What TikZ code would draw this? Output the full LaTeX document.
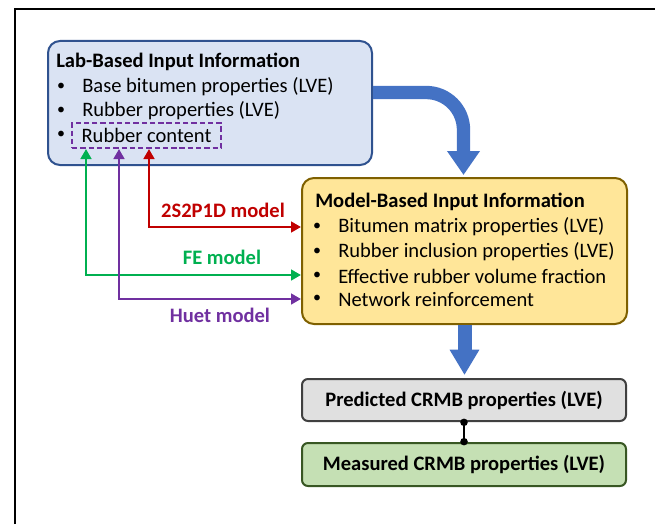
\documentclass[tikz,border=0pt]{standalone}
\usepackage{fontspec}
\setmainfont{Carlito}
\usetikzlibrary{arrows.meta,calc}
\definecolor{labfill}{HTML}{DAE3F3}
\definecolor{labdraw}{HTML}{2F528F}
\definecolor{bluearr}{HTML}{4472C4}
\definecolor{modfill}{HTML}{FFE699}
\definecolor{moddraw}{HTML}{7F6000}
\definecolor{cred}{HTML}{C00000}
\definecolor{cgreen}{HTML}{00B050}
\definecolor{cpurple}{HTML}{7030A0}
\definecolor{grayfill}{HTML}{E0E0E0}
\definecolor{graydraw}{HTML}{404040}
\definecolor{grnfill}{HTML}{C5E0B4}
\definecolor{grndraw}{HTML}{385723}
\begin{document}
\begin{tikzpicture}[x=0.75pt,y=-0.75pt,
  box/.style={draw, line width=1.5pt, inner sep=0pt},
  fnt/.style={font=\fontsize{15.4}{18}\selectfont},
  bfnt/.style={font=\fontsize{15.4}{18}\selectfont\bfseries},
  txt/.style={fnt, anchor=west, inner sep=0pt},
  bul/.style={font=\fontsize{12}{14}\selectfont, inner sep=0pt},
  lbl/.style={bfnt, inner sep=0pt},
  conn/.style={line width=2.2pt, {Triangle[length=7.5pt,width=8pt]}-{Triangle[length=7.5pt,width=8pt]}},
  bigarrow/.style={bluearr, line width=10pt},
]
\useasboundingbox (0,0) rectangle (655,524);
\draw[line width=1.6pt] (15,524) -- (15,9) -- (655,9);

% boxes
\node[box, draw=labdraw, fill=labfill, rounded corners=9pt, minimum width=243pt, minimum height=93pt] (lab) at (210,103) {};
\node[box, draw=moddraw, fill=modfill, rounded corners=9pt, minimum width=243.75pt, minimum height=109.5pt] (model) at (464.5,251) {};
\node[box, draw=graydraw, fill=grayfill, rounded corners=4.5pt, minimum width=243pt, minimum height=31.5pt, bfnt] (pred) at (464,400) {Predicted CRMB properties (LVE)};
\node[box, draw=grndraw, fill=grnfill, rounded corners=4.5pt, minimum width=243pt, minimum height=32.25pt, bfnt] (meas) at (464,464.5) {Measured CRMB properties (LVE)};

% lab texts
\node[txt, bfnt] (labt) at (56,62) {Lab-Based Input Information};
\node[bul] (lb1) at (61,87) {•};
\node[txt] (l1) at (82,87) {Base bitumen properties (LVE)};
\node[bul] (lb2) at (61,111) {•};
\node[txt] (l2) at (82,111) {Rubber properties (LVE)};
\node[bul] (lb3) at (61,135) {•};
\node[fnt, draw=cpurple, line width=1.5pt, dash pattern=on 4pt off 2.2pt, inner sep=0pt, minimum width=111.75pt, minimum height=18.75pt] (rc) at (146.5,135.5) {Rubber content};

% model texts
\node[txt, bfnt] (modt) at (315,202) {Model-Based Input Information};
\node[bul] (mb1) at (317,227) {•};
\node[txt] (m1) at (338,227) {Bitumen matrix properties (LVE)};
\node[bul] (mb2) at (317,252) {•};
\node[txt] (m2) at (338,252) {Rubber inclusion properties (LVE)};
\node[bul] (mb3) at (317,276) {•};
\node[txt] (m3) at (338,276) {Effective rubber volume fraction};
\node[bul] (mb4) at (317,299) {•};
\node[txt] (m4) at (338,299) {Network reinforcement};

% connector coordinates
\coordinate (xr) at (149,0);
\coordinate (xg) at (86,0);
\coordinate (xp) at (119,0);
\coordinate (yr) at (0,227);
\coordinate (yg) at (0,275);
\coordinate (yp) at (0,299);
\coordinate (yb) at (0,92.5);
\coordinate (xb) at (463.5,0);

\draw[conn, cred] (rc.south -| xr) |- (model.west |- yr);
\draw[conn, cgreen] (rc.south -| xg) |- (model.west |- yg);
\draw[conn, cpurple] (rc.south -| xp) |- (model.west |- yp);

\node[lbl, text=cred] (lr) at (223,210) {2S2P1D model};
\node[lbl, text=cgreen] (lg) at (222,257) {FE model};
\node[lbl, text=cpurple] (lp) at (220,315) {Huet model};

% big blue arrows
\draw[bigarrow, rounded corners=28pt, -{Triangle[length=18pt,width=23.5pt]}] (lab.east |- yb) -| ($(model.north -| xb)+(0,-2)$);
\draw[bigarrow, line width=10.5pt, -{Triangle[length=19pt,width=21pt]}] (model.south) -- ($(model.south |- pred.north)+(0,-3)$);

% pred-meas link
\draw[line width=2pt, shorten <=-2.5pt, shorten >=-2.5pt, {Circle[length=5.5pt]}-{Circle[length=5.5pt]}] (pred.south) -- (meas.north);
\end{tikzpicture}
\end{document}
